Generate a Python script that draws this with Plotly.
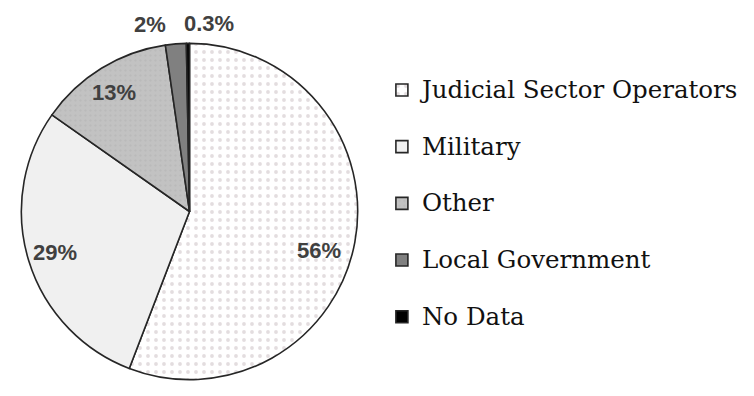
import plotly.graph_objects as go
import math

# ---- data ----
categories = ["Judicial Sector Operators", "Military", "Other", "Local Government", "No Data"]
values = [56, 29, 13, 2, 0.3]
value_labels = ["56%", "29%", "13%", "2%", "0.3%"]

# ---- styling ----
fill_colors = ["#ffffff", "#f0f0f0", "#c2c2c2", "#808080", "#000000"]
pattern_shapes = [".", "", ".", "", ""]
pattern_fg = ["#c8bcc0", "#f0f0f0", "#b2b2b2", "#808080", "#000000"]
pattern_size = [8, 8, 5, 8, 8]
label_rf = [0.82, 0.82, 0.82, 1.106, 1.106]
label_shift = [(-6, 14), (-3, 0), (-3, 0), (-24, 0), (21, 0)]

# page body has an 8px default margin; figure coordinates are viewport - 8
W, H = 738, 380
CX, CY, R = 183.5, 203.5, 170

legend_text_size = 24.5
legend_row_pitch = 56.7
legend_font_size = (legend_row_pitch - 3) / 1.3
legend_labels = [
    f"<span style='font-size:{legend_text_size}px;baseline-shift:8px'>{c}</span>" for c in categories
]

fig = go.Figure(go.Pie(
    labels=legend_labels,
    values=values,
    sort=False,
    direction="clockwise",
    rotation=0,
    textinfo="none",
    hovertext=categories,
    hoverinfo="text+percent",
    marker=dict(
        colors=fill_colors,
        line=dict(color="#262626", width=1.6),
        pattern=dict(shape=pattern_shapes, fgcolor=pattern_fg, bgcolor=fill_colors,
                     size=pattern_size, solidity=0.18, fillmode="overlay"),
    ),
    domain=dict(x=[(CX - R) / W, (CX + R) / W], y=[1 - (CY + R) / H, 1 - (CY - R) / H]),
))

# label positions derived from slice mid-angles
total = sum(values)
cum = 0
annotations = []
for i, v in enumerate(values):
    mid = (cum + v / 2) / total * 360
    cum += v
    th = math.radians(mid)
    px = CX + label_rf[i] * R * math.sin(th)
    py = CY - label_rf[i] * R * math.cos(th)
    annotations.append(dict(
        x=px / W, y=1 - py / H, xref="paper", yref="paper",
        xanchor="center", yanchor="middle",
        text=value_labels[i], showarrow=False,
        xshift=label_shift[i][0], yshift=-label_shift[i][1],
        font=dict(family="Liberation Sans", size=22, color="#404040", weight="bold"),
    ))

fig.update_layout(
    width=W, height=H,
    margin=dict(l=0, r=0, t=0, b=0),
    paper_bgcolor="white",
    plot_bgcolor="white",
    annotations=annotations,
    showlegend=True,
    legend=dict(
        x=378 / W, y=1 - 48.6 / H, xanchor="left", yanchor="top",
        font=dict(family="DejaVu Serif", size=legend_font_size, color="#111111"),
        bgcolor="rgba(0,0,0,0)",
    ),
)

fig.write_html("out.html")
